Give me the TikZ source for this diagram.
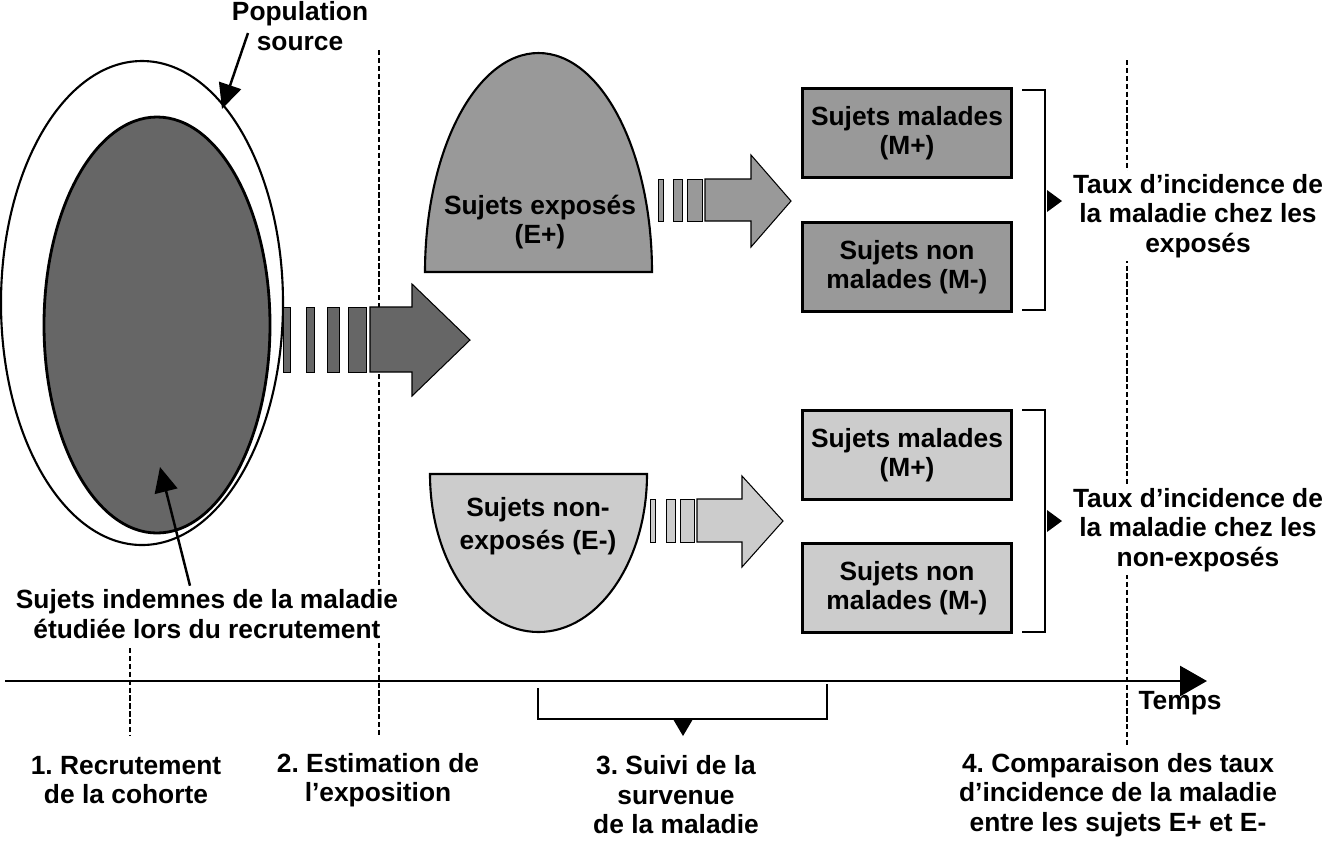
\documentclass[tikz,border=0pt]{standalone}
\usepackage{fontspec}
\setmainfont{Liberation Sans}
\usetikzlibrary{arrows.meta}
\definecolor{darkfill}{gray}{0.4}
\definecolor{midfill}{gray}{0.6}
\definecolor{lightfill}{gray}{0.8}

\begin{document}
\begin{tikzpicture}[>=Stealth, x=0.02cm, y=-0.02cm,
    lbl/.style={font=\bfseries\frenchspacing\fontsize{15}{16.8}\selectfont, align=center, inner sep=2pt},
    guide/.style={line width=1.5pt, dash pattern=on 3pt off 1.5pt},
    grpbox/.style={lbl, draw, line width=1.6pt, minimum width=4.18cm, minimum height=1.78cm},
    stripe/.style={draw, line width=0.5pt},
    ptr/.style={line width=1.4pt, -{Triangle[length=0.5cm, width=0.46cm]}},
    brace/.style={line width=1.4pt}]
    \useasboundingbox (0,0) rectangle (1328,840);

    % time guides
    \draw [guide] (130,648) -- (130,735);
    \draw [guide] (379,50) -- (379,735);
    \draw [guide] (1127,60) -- (1127,745);

    % source population and cohort
    \draw [line width=1.2pt, fill=white] (142,303) ellipse [x radius=141, y radius=242];
    \draw [line width=1.6pt, fill=darkfill] (157,325) ellipse [x radius=113, y radius=208];

    % recruitment -> exposure
    \foreach \a/\b in {283/290, 306/314, 327/339, 348/366}
        \draw [stripe, fill=darkfill] (\a,307) rectangle (\b,372);
    \draw [line width=0.6pt, fill=darkfill] (370,307) -- (412,307) -- (412,284) -- (470,340) -- (412,396) -- (412,372) -- (370,372) -- cycle;

    % exposed / non exposed
    \draw [line width=1.2pt, fill=midfill] (425,272) arc [start angle=180, end angle=360, x radius=113.5, y radius=219] -- cycle;
    \draw [line width=1.2pt, fill=lightfill] (430,474) arc [start angle=180, end angle=0, x radius=108.5, y radius=158] -- cycle;
    \node [lbl] (expo) at (540,222) {Sujets exposés\\(E+)};
    \node [lbl, font=\bfseries\fontsize{15}{18.5}\selectfont] (nonexpo) at (538,526) {Sujets non-\\exposés (E-)};

    % follow-up arrows
    \foreach \a/\b in {658/663, 673/682, 687/702}
        \draw [stripe, fill=midfill] (\a,179) rectangle (\b,221);
    \draw [line width=0.6pt, fill=midfill] (705,179) -- (751,179) -- (751,155) -- (791,201) -- (751,247) -- (751,221) -- (705,221) -- cycle;
    \foreach \a/\b in {650/655, 666/675, 680/694}
        \draw [stripe, fill=lightfill] (\a,499) rectangle (\b,542);
    \draw [line width=0.6pt, fill=lightfill] (697,499) -- (742,499) -- (742,476) -- (783,521) -- (742,567) -- (742,542) -- (697,542) -- cycle;

    % outcome boxes
    \node [grpbox, fill=midfill] (mplus1) at (907,133) {Sujets malades\\(M+)};
    \node [grpbox, fill=midfill] (mmoins1) at (907,267) {Sujets non\\malades (M-)};
    \node [grpbox, fill=lightfill] (mplus2) at (907,455) {Sujets malades\\(M+)};
    \node [grpbox, fill=lightfill] (mmoins2) at (907,588) {Sujets non\\malades (M-)};

    % brackets
    \draw [brace] (1022,90) -- (1045,90) -- (1045,310) -- (1022,310);
    \fill (1047,190) -- (1062,201) -- (1047,212) -- cycle;
    \draw [brace] (1022,410) -- (1045,410) -- (1045,632) -- (1022,632);
    \fill (1047,510) -- (1062,521) -- (1047,532) -- cycle;
    \node [lbl, fill=white] (tauxexpo) at (1198,216) {Taux d’incidence de\\la maladie chez les\\exposés};
    \node [lbl, fill=white] (tauxnonexpo) at (1198,530) {Taux d’incidence de\\la maladie chez les\\non-exposés};

    % labels with pointers
    \node [lbl] (popsrc) at (300,26) {Population\\source};
    \coordinate (srcfrom) at (248,33);
    \coordinate (srcpt) at (222,109);
    \draw [ptr] (srcfrom) -- (srcpt);
    \node [lbl, fill=white] (indemnes) at (207,614) {Sujets indemnes de la maladie\\étudiée lors du recrutement};
    \coordinate (cohpt) at (160,467);
    \draw [ptr] ([xshift=-0.34cm]indemnes.north) -- (cohpt);

    % time axis
    \coordinate (t0) at (5,681);
    \coordinate (t1) at (1207,681);
    \draw [line width=1.6pt, -{Triangle[length=0.54cm, width=0.6cm]}] (t0) -- (t1);
    \node [lbl] (temps) at (1180,703) {Temps};
    \draw [brace] (538,688) -- (538,719) -- (827,719) -- (827,684);
    \fill (673,719) -- (693,719) -- (683,736) -- cycle;

    % steps
    \node [lbl] (etape1) at (126,780) {1. Recrutement\\de la cohorte};
    \node [lbl] (etape2) at (378,780) {2. Estimation de\\l’exposition};
    \node [lbl] (etape3) at (676,795) {3. Suivi de la\\survenue\\de la maladie};
    \node [lbl] (etape4) at (1118,795) {4. Comparaison des taux\\d’incidence de la maladie\\entre les sujets E+ et E-};
\end{tikzpicture}
\end{document}
